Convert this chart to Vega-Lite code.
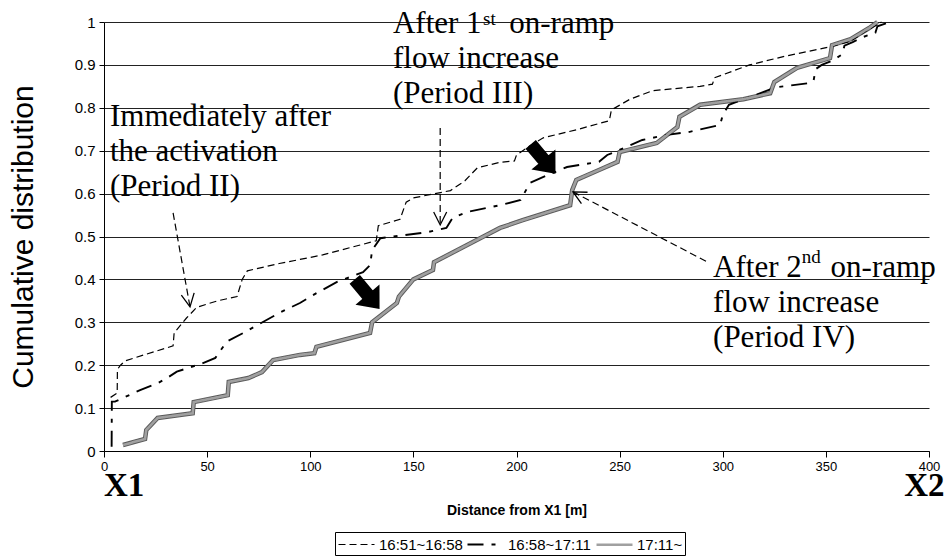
{
  "$schema": "https://vega.github.io/schema/vega-lite/v6.json",
  "width": 825,
  "height": 429,
  "autosize": {"type": "none"},
  "padding": {"left": 104, "top": 22, "right": 17, "bottom": 105},
  "background": "white",
  "config": {
    "view": {"stroke": null},
    "font": "Liberation Sans",
    "axis": {"domainColor": "black", "tickColor": "black", "labelColor": "black", "titleColor": "black", "labelFont": "Liberation Sans", "titleFont": "Liberation Sans"}
  },
  "datasets": {
    "series": [
      {"period": "16:51~16:58", "x": 3.2, "y": 0.125}, {"period": "16:51~16:58", "x": 6.4, "y": 0.135}, {"period": "16:51~16:58", "x": 6.5, "y": 0.19}, {"period": "16:51~16:58", "x": 8, "y": 0.2}, {"period": "16:51~16:58", "x": 10.2, "y": 0.21}, {"period": "16:51~16:58", "x": 20, "y": 0.225}, {"period": "16:51~16:58", "x": 33.5, "y": 0.245}, {"period": "16:51~16:58", "x": 34, "y": 0.275}, {"period": "16:51~16:58", "x": 40, "y": 0.31}, {"period": "16:51~16:58", "x": 45, "y": 0.335}, {"period": "16:51~16:58", "x": 55, "y": 0.35}, {"period": "16:51~16:58", "x": 64.5, "y": 0.36}, {"period": "16:51~16:58", "x": 67, "y": 0.4}, {"period": "16:51~16:58", "x": 69.5, "y": 0.42}, {"period": "16:51~16:58", "x": 85, "y": 0.437}, {"period": "16:51~16:58", "x": 106, "y": 0.457}, {"period": "16:51~16:58", "x": 120, "y": 0.475}, {"period": "16:51~16:58", "x": 132, "y": 0.49}, {"period": "16:51~16:58", "x": 133, "y": 0.525}, {"period": "16:51~16:58", "x": 143.5, "y": 0.54}, {"period": "16:51~16:58", "x": 146.5, "y": 0.58}, {"period": "16:51~16:58", "x": 150, "y": 0.59}, {"period": "16:51~16:58", "x": 168, "y": 0.607}, {"period": "16:51~16:58", "x": 175, "y": 0.63}, {"period": "16:51~16:58", "x": 181, "y": 0.66}, {"period": "16:51~16:58", "x": 192, "y": 0.673}, {"period": "16:51~16:58", "x": 199, "y": 0.676}, {"period": "16:51~16:58", "x": 200, "y": 0.69}, {"period": "16:51~16:58", "x": 206, "y": 0.71}, {"period": "16:51~16:58", "x": 213, "y": 0.73}, {"period": "16:51~16:58", "x": 230, "y": 0.75}, {"period": "16:51~16:58", "x": 245, "y": 0.77}, {"period": "16:51~16:58", "x": 246, "y": 0.795}, {"period": "16:51~16:58", "x": 255, "y": 0.82}, {"period": "16:51~16:58", "x": 266, "y": 0.84}, {"period": "16:51~16:58", "x": 289, "y": 0.85}, {"period": "16:51~16:58", "x": 295, "y": 0.855}, {"period": "16:51~16:58", "x": 296, "y": 0.87}, {"period": "16:51~16:58", "x": 313, "y": 0.9}, {"period": "16:51~16:58", "x": 330, "y": 0.92}, {"period": "16:51~16:58", "x": 352, "y": 0.942}, {"period": "16:51~16:58", "x": 362, "y": 0.955}, {"period": "16:51~16:58", "x": 370, "y": 0.98}, {"period": "16:51~16:58", "x": 377, "y": 1.0},
      {"period": "16:58~17:11", "x": 3.7, "y": 0.01}, {"period": "16:58~17:11", "x": 3.8, "y": 0.115}, {"period": "16:58~17:11", "x": 5.3, "y": 0.115}, {"period": "16:58~17:11", "x": 17.5, "y": 0.142}, {"period": "16:58~17:11", "x": 26, "y": 0.158}, {"period": "16:58~17:11", "x": 30.5, "y": 0.17}, {"period": "16:58~17:11", "x": 35.3, "y": 0.185}, {"period": "16:58~17:11", "x": 48, "y": 0.205}, {"period": "16:58~17:11", "x": 54, "y": 0.217}, {"period": "16:58~17:11", "x": 59.5, "y": 0.255}, {"period": "16:58~17:11", "x": 67.5, "y": 0.275}, {"period": "16:58~17:11", "x": 85, "y": 0.322}, {"period": "16:58~17:11", "x": 95, "y": 0.345}, {"period": "16:58~17:11", "x": 103, "y": 0.368}, {"period": "16:58~17:11", "x": 113, "y": 0.394}, {"period": "16:58~17:11", "x": 125.6, "y": 0.417}, {"period": "16:58~17:11", "x": 129, "y": 0.433}, {"period": "16:58~17:11", "x": 130, "y": 0.468}, {"period": "16:58~17:11", "x": 134, "y": 0.496}, {"period": "16:58~17:11", "x": 156.6, "y": 0.51}, {"period": "16:58~17:11", "x": 166, "y": 0.52}, {"period": "16:58~17:11", "x": 169, "y": 0.543}, {"period": "16:58~17:11", "x": 176, "y": 0.557}, {"period": "16:58~17:11", "x": 192, "y": 0.573}, {"period": "16:58~17:11", "x": 202, "y": 0.585}, {"period": "16:58~17:11", "x": 206.5, "y": 0.625}, {"period": "16:58~17:11", "x": 215, "y": 0.643}, {"period": "16:58~17:11", "x": 224.5, "y": 0.662}, {"period": "16:58~17:11", "x": 240, "y": 0.674}, {"period": "16:58~17:11", "x": 244, "y": 0.69}, {"period": "16:58~17:11", "x": 253.5, "y": 0.709}, {"period": "16:58~17:11", "x": 261, "y": 0.725}, {"period": "16:58~17:11", "x": 273, "y": 0.737}, {"period": "16:58~17:11", "x": 284, "y": 0.744}, {"period": "16:58~17:11", "x": 298.7, "y": 0.76}, {"period": "16:58~17:11", "x": 300, "y": 0.783}, {"period": "16:58~17:11", "x": 303, "y": 0.807}, {"period": "16:58~17:11", "x": 326, "y": 0.848}, {"period": "16:58~17:11", "x": 341, "y": 0.857}, {"period": "16:58~17:11", "x": 344, "y": 0.862}, {"period": "16:58~17:11", "x": 345, "y": 0.89}, {"period": "16:58~17:11", "x": 348, "y": 0.9}, {"period": "16:58~17:11", "x": 353.5, "y": 0.911}, {"period": "16:58~17:11", "x": 358, "y": 0.925}, {"period": "16:58~17:11", "x": 359, "y": 0.945}, {"period": "16:58~17:11", "x": 363, "y": 0.953}, {"period": "16:58~17:11", "x": 368, "y": 0.965}, {"period": "16:58~17:11", "x": 374, "y": 0.975}, {"period": "16:58~17:11", "x": 375, "y": 0.99}, {"period": "16:58~17:11", "x": 381, "y": 1.0},
      {"period": "17:11~", "x": 9.2, "y": 0.014}, {"period": "17:11~", "x": 19.9, "y": 0.028}, {"period": "17:11~", "x": 20.5, "y": 0.049}, {"period": "17:11~", "x": 26, "y": 0.077}, {"period": "17:11~", "x": 43, "y": 0.088}, {"period": "17:11~", "x": 43.5, "y": 0.114}, {"period": "17:11~", "x": 60, "y": 0.13}, {"period": "17:11~", "x": 60.5, "y": 0.161}, {"period": "17:11~", "x": 70, "y": 0.17}, {"period": "17:11~", "x": 76.6, "y": 0.184}, {"period": "17:11~", "x": 82, "y": 0.212}, {"period": "17:11~", "x": 95, "y": 0.224}, {"period": "17:11~", "x": 102, "y": 0.228}, {"period": "17:11~", "x": 103, "y": 0.243}, {"period": "17:11~", "x": 129, "y": 0.275}, {"period": "17:11~", "x": 130, "y": 0.3}, {"period": "17:11~", "x": 142, "y": 0.345}, {"period": "17:11~", "x": 143, "y": 0.36}, {"period": "17:11~", "x": 150, "y": 0.4}, {"period": "17:11~", "x": 159.5, "y": 0.422}, {"period": "17:11~", "x": 160, "y": 0.44}, {"period": "17:11~", "x": 184, "y": 0.5}, {"period": "17:11~", "x": 192, "y": 0.52}, {"period": "17:11~", "x": 203, "y": 0.538}, {"period": "17:11~", "x": 226, "y": 0.573}, {"period": "17:11~", "x": 227, "y": 0.608}, {"period": "17:11~", "x": 229, "y": 0.632}, {"period": "17:11~", "x": 240, "y": 0.655}, {"period": "17:11~", "x": 249, "y": 0.674}, {"period": "17:11~", "x": 250, "y": 0.697}, {"period": "17:11~", "x": 268, "y": 0.718}, {"period": "17:11~", "x": 278, "y": 0.755}, {"period": "17:11~", "x": 279, "y": 0.779}, {"period": "17:11~", "x": 289, "y": 0.807}, {"period": "17:11~", "x": 310, "y": 0.82}, {"period": "17:11~", "x": 323, "y": 0.834}, {"period": "17:11~", "x": 325, "y": 0.86}, {"period": "17:11~", "x": 336, "y": 0.893}, {"period": "17:11~", "x": 352, "y": 0.916}, {"period": "17:11~", "x": 353, "y": 0.946}, {"period": "17:11~", "x": 362, "y": 0.96}, {"period": "17:11~", "x": 371, "y": 0.986}, {"period": "17:11~", "x": 375, "y": 1.0}
    ],
    "arrows": [
      {"a": "A1", "x": 33.5, "y": 0.555}, {"a": "A1", "x": 41.7, "y": 0.336},
      {"a": "A2", "x": 163, "y": 0.753}, {"a": "A2", "x": 163, "y": 0.527},
      {"a": "A3", "x": 292.4, "y": 0.441}, {"a": "A3", "x": 227.4, "y": 0.604}
    ],
    "heads": [
      {"a": "A1", "x": 41.7, "y": 0.336}, {"a": "A2", "x": 163, "y": 0.527}, {"a": "A3", "x": 227.4, "y": 0.604}
    ],
    "blocks": [
      {"x": 127.5, "y": 0.366}, {"x": 212.8, "y": 0.681}
    ],
    "labels": [
      {"t": "Immediately after\nthe activation\n(Period II)", "x": 2.9, "y": 0.7576},
      {"t": "After 1", "x": 140.1, "y": 0.9744},
      {"t": "on-ramp", "x": 196.5, "y": 0.9744},
      {"t": "flow increase\n(Period III)", "x": 140.1, "y": 0.8928},
      {"t": "After 2", "x": 295.3, "y": 0.4056},
      {"t": "on-ramp", "x": 352.3, "y": 0.4056},
      {"t": "flow increase\n(Period IV)", "x": 295.3, "y": 0.324}
    ],
    "sups": [
      {"t": "st", "x": 183.8, "y": 0.993},
      {"t": "nd", "x": 338.3, "y": 0.438}
    ],
    "ends": [
      {"t": "X1", "x": 0, "y": -0.105, "side": "L"},
      {"t": "X2", "x": 407.5, "y": -0.105, "side": "R"}
    ]
  },
  "layer": [
    {
      "data": {"name": "series"},
      "transform": [{"filter": "datum.period === '17:11~'"}],
      "mark": {"type": "line", "stroke": "#5a5a5a", "strokeWidth": 4.5},
      "encoding": {
        "x": {"field": "x", "type": "quantitative", "scale": {"domain": [0, 400], "nice": false},
          "axis": {"values": [0, 50, 100, 150, 200, 250, 300, 350, 400], "grid": false, "title": "Distance from X1 [m]", "titleFontSize": 14, "titleFontWeight": "bold", "titlePadding": 30, "labelFontSize": 13, "labelPadding": 3, "tickSize": 6, "labelFlush": false}},
        "y": {"field": "y", "type": "quantitative", "scale": {"domain": [0, 1], "nice": false},
          "axis": {"values": [0, 0.1, 0.2, 0.3, 0.4, 0.5, 0.6, 0.7, 0.8, 0.9, 1], "format": ".1~f", "grid": true, "gridColor": "#222222", "gridOpacity": 1, "gridWidth": 1, "title": "Cumulative distribution", "titleFontSize": 30, "titleFontWeight": "normal", "titlePadding": 36, "labelFontSize": 15, "labelPadding": 4, "tickSize": 5}}
      }
    },
    {
      "data": {"name": "series"},
      "mark": {"type": "line"},
      "encoding": {
        "x": {"field": "x", "type": "quantitative"},
        "y": {"field": "y", "type": "quantitative"},
        "color": {"field": "period", "type": "nominal",
          "scale": {"domain": ["16:51~16:58", "16:58~17:11", "17:11~"], "range": ["black", "black", "#a0a0a0"]},
          "legend": {"orient": "none", "legendX": 231, "legendY": 510, "direction": "horizontal", "columns": 3, "title": null, "strokeColor": "black", "padding": 2, "symbolType": "M-2,0L2,0", "symbolSize": 324, "symbolOffset": 9, "labelOffset": 12, "labelFontSize": 15, "labelFont": "Liberation Sans", "labelColor": "black", "columnPadding": 0}},
        "strokeDash": {"field": "period", "type": "nominal",
          "scale": {"domain": ["16:51~16:58", "16:58~17:11", "17:11~"], "range": [[7, 4], [16, 8, 4, 8], [1, 0]]}},
        "strokeWidth": {"field": "period", "type": "nominal",
          "scale": {"domain": ["16:51~16:58", "16:58~17:11", "17:11~"], "range": [1.2, 2.6, 2.8]}}
      }
    },
    {
      "data": {"name": "arrows"},
      "mark": {"type": "line", "stroke": "black", "strokeWidth": 1.2, "strokeDash": [7, 4]},
      "encoding": {
        "x": {"field": "x", "type": "quantitative"},
        "y": {"field": "y", "type": "quantitative"},
        "detail": {"field": "a"}
      }
    },
    {
      "data": {"name": "heads"},
      "transform": [{"filter": "datum.a === 'A1'"}],
      "mark": {"type": "point", "shape": "M-0.5,-1L0,0L0.5,-1", "filled": false, "stroke": "black", "strokeWidth": 1.3, "size": 676, "angle": -10, "opacity": 1},
      "encoding": {"x": {"field": "x", "type": "quantitative"}, "y": {"field": "y", "type": "quantitative"}}
    },
    {
      "data": {"name": "heads"},
      "transform": [{"filter": "datum.a === 'A2'"}],
      "mark": {"type": "point", "shape": "M-0.5,-1L0,0L0.5,-1", "filled": false, "stroke": "black", "strokeWidth": 1.3, "size": 676, "angle": 0, "opacity": 1},
      "encoding": {"x": {"field": "x", "type": "quantitative"}, "y": {"field": "y", "type": "quantitative"}}
    },
    {
      "data": {"name": "heads"},
      "transform": [{"filter": "datum.a === 'A3'"}],
      "mark": {"type": "point", "shape": "M-0.5,-1L0,0L0.5,-1", "filled": false, "stroke": "black", "strokeWidth": 1.3, "size": 676, "angle": 118, "opacity": 1},
      "encoding": {"x": {"field": "x", "type": "quantitative"}, "y": {"field": "y", "type": "quantitative"}}
    },
    {
      "data": {"name": "blocks"},
      "mark": {"type": "point", "shape": "M-1,-0.32L0.1,-0.32L0.1,-0.75L1,0L0.1,0.75L0.1,0.32L-1,0.32Z", "filled": true, "fill": "black", "stroke": "black", "size": 1300, "angle": 50, "opacity": 1},
      "encoding": {"x": {"field": "x", "type": "quantitative"}, "y": {"field": "y", "type": "quantitative"}}
    },
    {
      "data": {"name": "labels"},
      "mark": {"type": "text", "font": "Liberation Serif", "fontSize": 31, "align": "left", "baseline": "alphabetic", "lineBreak": "\n", "lineHeight": 35, "color": "black"},
      "encoding": {"x": {"field": "x", "type": "quantitative"}, "y": {"field": "y", "type": "quantitative"}, "text": {"field": "t"}}
    },
    {
      "data": {"name": "sups"},
      "mark": {"type": "text", "font": "Liberation Serif", "fontSize": 19, "align": "left", "baseline": "alphabetic", "color": "black"},
      "encoding": {"x": {"field": "x", "type": "quantitative"}, "y": {"field": "y", "type": "quantitative"}, "text": {"field": "t"}}
    },
    {
      "data": {"name": "ends"},
      "transform": [{"filter": "datum.side === 'L'"}],
      "mark": {"type": "text", "font": "Liberation Serif", "fontSize": 33, "fontWeight": "bold", "align": "left", "baseline": "alphabetic", "color": "black"},
      "encoding": {"x": {"field": "x", "type": "quantitative"}, "y": {"field": "y", "type": "quantitative"}, "text": {"field": "t"}}
    },
    {
      "data": {"name": "ends"},
      "transform": [{"filter": "datum.side === 'R'"}],
      "mark": {"type": "text", "font": "Liberation Serif", "fontSize": 33, "fontWeight": "bold", "align": "right", "baseline": "alphabetic", "color": "black"},
      "encoding": {"x": {"field": "x", "type": "quantitative"}, "y": {"field": "y", "type": "quantitative"}, "text": {"field": "t"}}
    }
  ]
}
